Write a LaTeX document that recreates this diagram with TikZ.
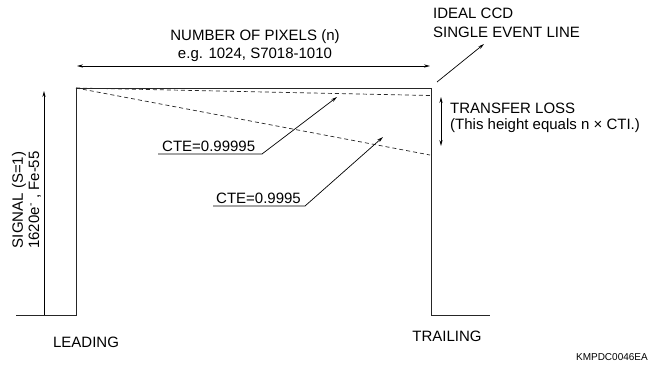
\documentclass[tikz,border=0pt]{standalone}
\usepackage{fontspec}
\setmainfont{Liberation Sans}
\usetikzlibrary{arrows.meta}
\begin{document}
\begin{tikzpicture}[x=1pt,y=-1pt,
  pulse/.style={line width=0.9pt, black!85},
  dline/.style={line width=0.7pt, black!85, dash pattern=on 4pt off 3pt},
  thin/.style={line width=0.7pt, black},
  tip/.style={-{Stealth[length=6pt,width=3.2pt]}},
  dtip/.style={{Stealth[length=6pt,width=3.2pt]}-{Stealth[length=6pt,width=3.2pt]}},
  lbl/.style={inner sep=0pt, font=\fontsize{15}{17}\selectfont},
  small/.style={inner sep=0pt, font=\fontsize{10}{12}\selectfont}
]
\useasboundingbox (0,0) rectangle (650,372);
% pulse outline
\coordinate (bl0) at (16,315);
\coordinate (sb) at (44,315);
\coordinate (lb) at (76,315);
\coordinate (lt) at (76,88);
\coordinate (rt) at (431,88);
\coordinate (rb) at (431,315);
\coordinate (br) at (490,315);
\draw[pulse] (bl0) -- (lb) -- (lt) -- (rt) -- (rb) -- (br);
% signal arrow
\coordinate (st) at (44,91);
\draw[thin,tip] (sb) -- (st);
% dashed transfer lines
\coordinate (d1) at (430,95.5);
\coordinate (d2) at (430,155);
\draw[dline] (lt) -- (d1);
\draw[dline] (lt) -- (d2);
% transfer loss arrow
\coordinate (tl1) at (441,97);
\coordinate (tl2) at (441,146);
\draw[thin,dtip] (tl1) -- (tl2);
% number of pixels arrow
\coordinate (np1) at (77,66);
\coordinate (np2) at (430,66);
\draw[thin,dtip] (np1) -- (np2);
% ideal ccd arrow
\coordinate (ic1) at (437,82);
\coordinate (ic2) at (484,44);
\draw[thin,tip] (ic1) -- (ic2);
% CTE leaders
\coordinate (c1a) at (158,154);
\coordinate (c1b) at (262,154);
\coordinate (c1c) at (337,97);
\draw[thin,tip] (c1a) -- (c1b) -- (c1c);
\coordinate (c2a) at (213,206);
\coordinate (c2b) at (305,206);
\coordinate (c2c) at (383,137);
\draw[thin,tip] (c2a) -- (c2b) -- (c2c);
% texts
\node[lbl,anchor=base west] (cte1) at (162,151) {CTE=0.99995};
\node[lbl,anchor=base west] (cte2) at (216,203) {CTE=0.9995};
\node[lbl,anchor=base west] (ideal1) at (433,18) {IDEAL CCD};
\node[lbl,anchor=base west] (ideal2) at (433,37) {SINGLE EVENT LINE};
\node[lbl,anchor=base west] (tl) at (450,113) {TRANSFER LOSS};
\node[lbl,anchor=base west] (tlh) at (450,129) {(This height equals n × CTI.)};
\node[lbl,anchor=base] (npx) at (255,40) {NUMBER OF PIXELS (n)};
\node[lbl,anchor=base] (eg) at (255,58) {e.g. 1024, S7018-1010};
\node[lbl,anchor=base,rotate=90] (sig1) at (23,200) {SIGNAL (S=1)};
\node[lbl,anchor=base,rotate=90] (sig2) at (39,200) {1620e\textsuperscript{-} , Fe-55};
\node[lbl] (lead) at (86,342) {LEADING};
\node[lbl] (trail) at (447,336) {TRAILING};
\node[small,anchor=east] (code) at (648,357) {KMPDC0046EA};
\end{tikzpicture}
\end{document}
